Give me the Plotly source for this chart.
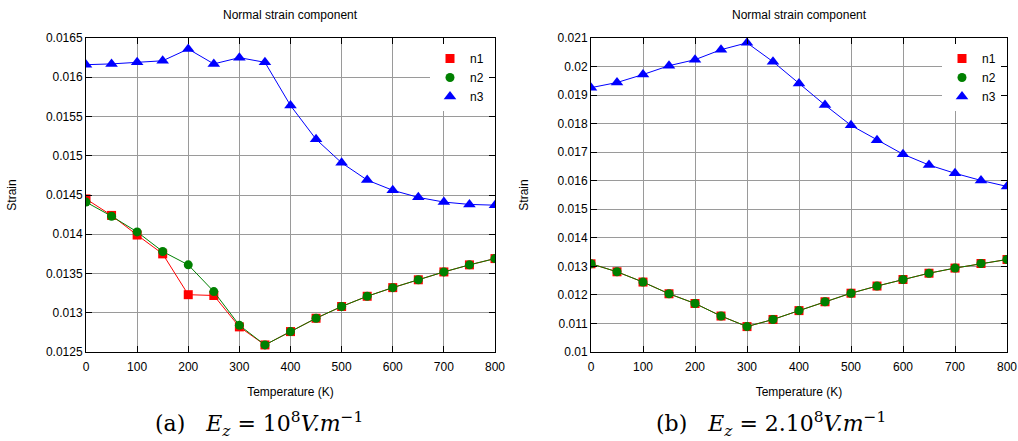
import plotly.graph_objects as go
from plotly.subplots import make_subplots

# Data
temperature = [0, 50, 100, 150, 200, 250, 300, 350, 400, 450, 500, 550, 600, 650, 700, 750, 800]

# (a) Ez = 1e8 V/m
n1_a = [0.01445, 0.01424, 0.01399, 0.01375, 0.01323, 0.01322, 0.01282, 0.01259, 0.01276,
        0.01293, 0.01308, 0.01321, 0.01332, 0.01342, 0.01352, 0.01361, 0.01369]
n2_a = [0.01441, 0.01423, 0.01403, 0.01378, 0.01361, 0.01327, 0.01284, 0.01259, 0.01276,
        0.01293, 0.01308, 0.01321, 0.01332, 0.01342, 0.01352, 0.01361, 0.01369]
n3_a = [0.01616, 0.01617, 0.01619, 0.01621, 0.01636, 0.01617, 0.01625, 0.01619, 0.01564,
        0.01521, 0.01491, 0.01469, 0.01456, 0.01447, 0.01441, 0.01438, 0.01437]

# (b) Ez = 2e8 V/m
n1_b = [0.01309, 0.01281, 0.01245, 0.01204, 0.0117, 0.01126, 0.01089, 0.01114, 0.01145,
        0.01176, 0.01206, 0.01231, 0.01254, 0.01276, 0.01294, 0.0131, 0.01324]
n2_b = [0.01309, 0.01281, 0.01245, 0.01204, 0.0117, 0.01126, 0.01089, 0.01114, 0.01145,
        0.01176, 0.01206, 0.01231, 0.01254, 0.01276, 0.01294, 0.0131, 0.01324]
n3_b = [0.01926, 0.01944, 0.01972, 0.02003, 0.02024, 0.02059, 0.02083, 0.02017, 0.01941,
        0.01865, 0.01794, 0.01742, 0.01693, 0.01655, 0.01626, 0.01601, 0.0158]

names = ["n1", "n2", "n3"]
colors = ["#ff0000", "#008000", "#0000ff"]
symbols = ["square", "circle", "triangle-up"]
msizes = [9, 9, 11]

captions = ["(a)&nbsp;&nbsp;&nbsp;<i>E<sub>z</sub></i> = 10<sup>8</sup><i>V.m</i><sup>\u22121</sup>",
            "(b)&nbsp;&nbsp;&nbsp;<i>E<sub>z</sub></i> = 2.10<sup>8</sup><i>V.m</i><sup>\u22121</sup>"]

W, H = 1018, 441
fig = make_subplots(rows=1, cols=2)

panels = [(n1_a, n2_a, n3_a), (n1_b, n2_b, n3_b)]
legends = ["legend", "legend2"]
for col, series in enumerate(panels, start=1):
    for i, ys in enumerate(series):
        fig.add_trace(go.Scatter(
            x=temperature, y=ys, name=names[i], mode="lines+markers",
            line=dict(color=colors[i], width=1),
            marker=dict(symbol=symbols[i], size=msizes[i], color=colors[i]),
            showlegend=False), row=1, col=col)
    # marker-only key entries, gnuplot style
    for i in range(3):
        fig.add_trace(go.Scatter(
            x=[None], y=[None], name=names[i], mode="markers",
            marker=dict(symbol=symbols[i], size=msizes[i], color=colors[i]),
            legend=legends[col - 1]), row=1, col=col)

font = "Liberation Sans, Arial, sans-serif"
axis_common = dict(showline=True, linecolor="black", linewidth=1, mirror="allticks",
                   ticks="inside", ticklen=6, tickcolor="black", automargin=False,
                   showgrid=True, gridcolor="#9a9a9a", gridwidth=1, zeroline=False,
                   tickfont=dict(family=font, size=12, color="black"))

x_domains = [[86 / W, 495 / W], [591 / W, 1007 / W]]
y_domain = [1 - 352 / H, 1 - 38 / H]
for k in (0, 1):
    xa = "xaxis" if k == 0 else "xaxis2"
    ya = "yaxis" if k == 0 else "yaxis2"
    fig.layout[xa].update(domain=x_domains[k], range=[0, 800], dtick=100, **axis_common,
                          ticklabelstandoff=4,
                          title=dict(text="Temperature (K)", standoff=14,
                                     font=dict(family=font, size=12, color="black")))
    fig.layout[ya].update(domain=y_domain, **axis_common,
                          title=dict(text="Strain", standoff=26,
                                     font=dict(family=font, size=12, color="black")))

fig.layout.yaxis.update(range=[0.0125, 0.0165], dtick=0.0005)
fig.layout.yaxis2.update(range=[0.01, 0.021], dtick=0.001)

for k in (0, 1):
    cx = (x_domains[k][0] + x_domains[k][1]) / 2
    fig.add_annotation(text="Normal strain component", xref="paper", yref="paper",
                       x=cx, y=1 - 15 / H, showarrow=False,
                       xanchor="center", yanchor="middle",
                       font=dict(family=font, size=12, color="black"))
    fig.add_annotation(text=captions[k], xref="paper", yref="paper",
                       x=[259 / W, 771 / W][k], y=1 - 424 / H, showarrow=False,
                       xanchor="center", yanchor="middle",
                       font=dict(family="DejaVu Serif, serif", size=22, color="black"))

legend_style = dict(bgcolor="white", borderwidth=0, xanchor="right", yanchor="top",
                    font=dict(family=font, size=12, color="black"), itemwidth=30,
                    tracegroupgap=0)
fig.update_layout(
    width=W, height=H, margin=dict(l=0, r=0, t=0, b=0),
    paper_bgcolor="white", plot_bgcolor="white",
    legend=dict(x=489 / W, y=1 - 44 / H, **legend_style),
    legend2=dict(x=1001 / W, y=1 - 44 / H, **legend_style),
    showlegend=True,
)

fig.write_html("out.html", config={"displayModeBar": False},
               post_script="document.body.style.margin='0';")
